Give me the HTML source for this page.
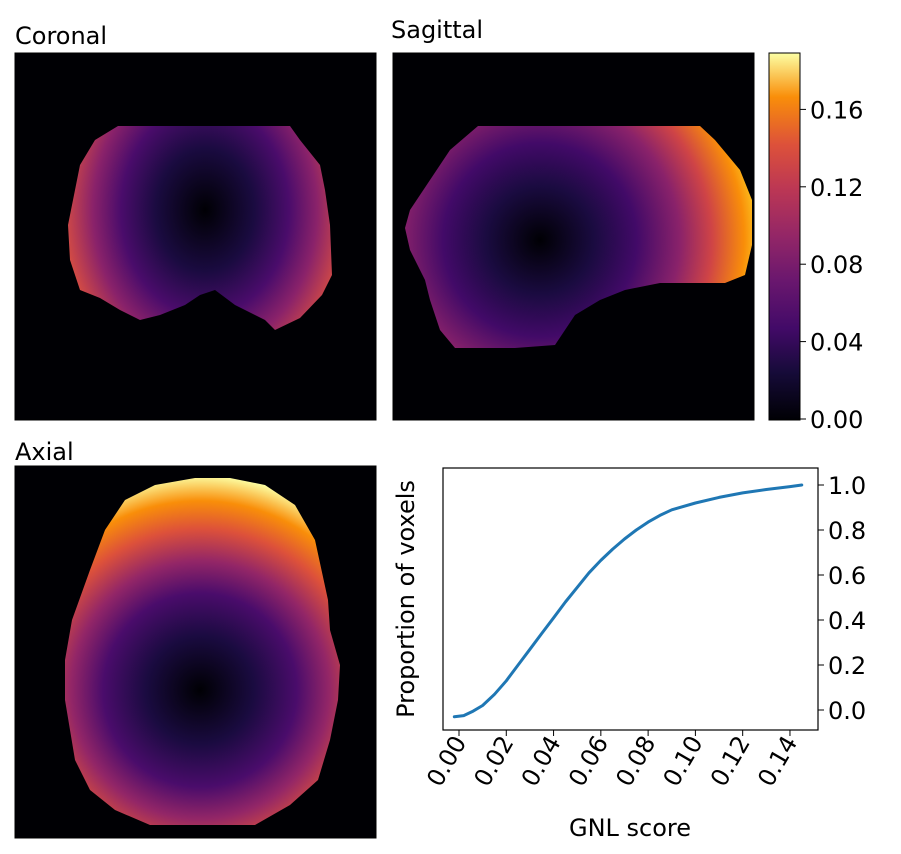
<!DOCTYPE html>
<html><head><meta charset="utf-8"><style>
body{margin:0;background:#fff;font-family:"DejaVu Sans","Liberation Sans",sans-serif;}
svg{display:block}
</style></head><body>
<svg width="901" height="854" viewBox="0 0 901 854" font-family="DejaVu Sans, Liberation Sans, sans-serif">
<defs>
<linearGradient id="infernoV" x1="0" y1="1" x2="0" y2="0">
<stop offset="0" stop-color="#000004"/><stop offset="0.13" stop-color="#160b39"/><stop offset="0.25" stop-color="#420a68"/><stop offset="0.38" stop-color="#6a176e"/><stop offset="0.5" stop-color="#932667"/><stop offset="0.63" stop-color="#bc3754"/><stop offset="0.75" stop-color="#dd513a"/><stop offset="0.88" stop-color="#f98e09"/><stop offset="1" stop-color="#fcffa4"/>
</linearGradient>
<radialGradient id="gCor" gradientUnits="userSpaceOnUse" cx="205" cy="210" r="140" gradientTransform="translate(205 210) scale(1 1.25) translate(-205 -210)">
<stop offset="0" stop-color="#000004"/><stop offset="0.35" stop-color="#1a0b40"/><stop offset="0.6" stop-color="#4a0c6b"/><stop offset="0.8" stop-color="#8a226a"/><stop offset="1" stop-color="#d14a45"/>
</radialGradient>
<radialGradient id="gSag" gradientUnits="userSpaceOnUse" cx="540" cy="240" r="215">
<stop offset="0" stop-color="#000004"/><stop offset="0.25" stop-color="#1a0b40"/><stop offset="0.45" stop-color="#420a68"/><stop offset="0.65" stop-color="#8a226a"/><stop offset="0.8" stop-color="#cf4446"/><stop offset="0.95" stop-color="#f98e09"/><stop offset="1" stop-color="#fbb61a"/>
</radialGradient>
<radialGradient id="gAx" gradientUnits="userSpaceOnUse" cx="200" cy="690" r="215">
<stop offset="0" stop-color="#000004"/><stop offset="0.25" stop-color="#1a0b40"/><stop offset="0.45" stop-color="#4a0c6b"/><stop offset="0.6" stop-color="#932667"/><stop offset="0.75" stop-color="#dd513a"/><stop offset="0.88" stop-color="#f98e09"/><stop offset="1" stop-color="#fcffa4"/>
</radialGradient>
</defs>

<text x="15" y="44" font-size="24">Coronal</text>
<rect x="15" y="53" width="361" height="367" fill="#000004" stroke="#000"/>
<polygon fill="url(#gCor)" points="118,126 290,126 300,140 320,165 325,190 330,225 332,275 322,295 300,318 275,330 265,320 235,305 215,290 200,295 185,305 160,315 140,320 120,310 100,298 80,290 70,260 68,225 75,190 80,165 95,140"/>

<text x="391" y="38" font-size="24">Sagittal</text>
<rect x="393" y="53" width="361" height="367" fill="#000004" stroke="#000"/>
<polygon fill="url(#gSag)" points="478,126 700,126 715,140 740,170 752,200 752,245 745,275 725,283 660,283 625,290 600,300 575,315 555,345 515,348 455,348 440,330 430,300 425,280 410,250 405,228 410,210 420,195 430,180 450,150"/>

<rect x="769" y="53" width="31" height="367" fill="url(#infernoV)" stroke="#000"/>
<g id="cbticks" font-size="24"></g>

<text x="15" y="460" font-size="24">Axial</text>
<rect x="15" y="466" width="361" height="372" fill="#000004" stroke="#000"/>
<polygon fill="url(#gAx)" points="195,478 230,478 265,485 295,505 315,540 328,600 330,630 340,665 338,700 330,740 318,780 290,805 255,825 150,825 115,810 90,790 75,760 65,700 65,660 72,620 90,570 105,530 125,500 155,485"/>

<rect x="443" y="468" width="375" height="262" fill="none" stroke="#000" stroke-width="1.2"/>
<g id="cdf"></g>
<text x="630" y="836" font-size="24" text-anchor="middle">GNL score</text>
<text transform="translate(414 599) rotate(-90)" font-size="24" text-anchor="middle">Proportion of voxels</text>
</svg>
<script>
const NS='http://www.w3.org/2000/svg';
const cbTicks=[0,0.04,0.08,0.12,0.16];
const cbLabels=['0.00','0.04','0.08','0.12','0.16'];
const cdfX=[-0.002,0.002,0.006,0.01,0.015,0.02,0.025,0.03,0.035,0.04,0.045,0.05,0.055,0.06,0.065,0.07,0.075,0.08,0.085,0.09,0.10,0.11,0.12,0.13,0.14,0.145];
const cdfY=[-0.03,-0.025,-0.005,0.02,0.07,0.13,0.20,0.27,0.34,0.41,0.48,0.545,0.61,0.665,0.715,0.76,0.80,0.835,0.865,0.89,0.92,0.945,0.965,0.98,0.993,1.0];
const xTicks=[0,0.02,0.04,0.06,0.08,0.10,0.12,0.14];
const xLabels=['0.00','0.02','0.04','0.06','0.08','0.10','0.12','0.14'];
const yTicks=[0,0.2,0.4,0.6,0.8,1.0];
const yLabels=['0.0','0.2','0.4','0.6','0.8','1.0'];
const cbY=v=>419-v*1935;
const sx=v=>459+v*2364;
const sy=v=>710-v*225;
function mk(t,a,p){const e=document.createElementNS(NS,t);for(const k in a)e.setAttribute(k,a[k]);p.appendChild(e);return e;}
const cb=document.getElementById('cbticks');
cbTicks.forEach((v,i)=>{
 const l=mk('line',{x1:800,x2:806,y1:cbY(v),y2:cbY(v),stroke:'#000'},cb);
 
 
 const t=mk('text',{x:810,y:cbY(v)+9},cb);t.textContent=cbLabels[i];
 
 
});
const g=document.getElementById('cdf');
xTicks.forEach((v,i)=>{
 const l=mk('line',{x1:sx(v),x2:sx(v),y1:730,y2:736,stroke:'#000'},g);
 
 
 const t=mk('text',{x:0,y:0,'font-size':24,'text-anchor':'end',transform:`translate(${sx(v)+8} 742) rotate(-60)`},g);
 t.textContent=xLabels[i];
 
 
});
yTicks.forEach((v,i)=>{
 const l=mk('line',{x1:818,x2:824,y1:sy(v),y2:sy(v),stroke:'#000'},g);
 
 
 const t=mk('text',{x:828,y:sy(v)+9,'font-size':24},g);
 t.textContent=yLabels[i];
 
 
});
const pts=cdfX.map((x,i)=>sx(x).toFixed(1)+','+sy(cdfY[i]).toFixed(1)).join(' ');
const pl=mk('polyline',{points:pts,fill:'none',stroke:'#1f77b4','stroke-width':3,'stroke-linejoin':'round','stroke-linecap':'round'},g);


</script>
</body></html>
